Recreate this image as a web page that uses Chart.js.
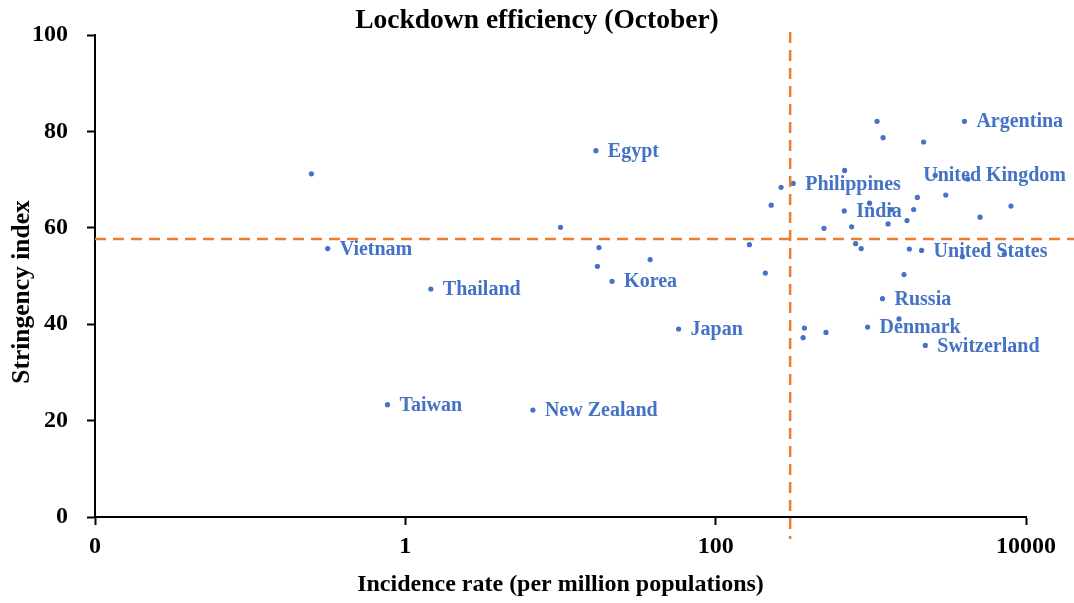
<!DOCTYPE html>
<html>
<head>
<meta charset="utf-8">
<script src="https://cdn.jsdelivr.net/npm/chart.js@4"></script>
<style>
  html, body { margin: 0; padding: 0; background: #fff; }
  #wrap { width: 1074px; height: 603px; }
</style>
</head>
<body>
<div id="wrap"><canvas id="scatterChart"></canvas></div>
<script>
// Lockdown efficiency scatter: incidence rate (log x) vs stringency index

// Named countries
const countryNames = ['Egypt', 'Vietnam', 'Thailand', 'Korea', 'Japan', 'Taiwan', 'New Zealand',
  'Argentina', 'Philippines', 'India', 'United Kingdom', 'United States', 'Russia', 'Denmark', 'Switzerland'];
const countryIncidence = [16.9, 0.316, 1.46, 21.5, 57.7, 0.767, 6.64,
  4010, 316, 674, 2600, 2124, 1189, 953, 2244];
const countryStringency = [76.0, 55.7, 47.3, 48.9, 39.0, 23.3, 22.2,
  82.1, 69.2, 63.5, 70.9, 55.3, 45.3, 39.4, 35.6];

// Other (unlabelled) countries
const otherIncidence = [0.248, 10.0, 17.7, 17.3, 37.8, 1097, 1199, 2188, 678, 264, 228, 981,
  1364, 1995, 1888, 1710, 3041, 5058, 8000, 4216, 499, 752, 1291, 165, 798, 867,
  1771, 3893, 7244, 209, 1636, 1519, 373, 366, 514];
const otherStringency = [71.2, 60.1, 55.9, 52.0, 53.4, 82.1, 78.7, 77.8, 71.9, 68.4, 64.7, 65.1,
  63.8, 66.3, 63.8, 61.5, 66.8, 62.2, 64.5, 70.1, 59.9, 60.2, 60.8, 56.5, 56.7, 55.7,
  55.6, 54.0, 54.5, 50.6, 50.3, 41.1, 39.2, 37.2, 38.3];

// Reference lines (median incidence / median stringency)
const incidenceCutoff = 302;
const stringencyCutoff = 57.7;

// Axis ticks
const xTickValues = [0.01, 1, 100, 10000];
const xTickLabels = ['0', '1', '100', '10000'];

const chartTitle = 'Lockdown efficiency (October)';
const yTitle = 'Stringency index';

const serif = "'Liberation Serif', 'Times New Roman', serif";
const blue = '#4472C4';
const orange = '#ED7D31';

// dashed reference lines, drawn past the plot area like the original
const cutoffLines = {
  id: 'cutoffLines',
  afterDatasetsDraw(chart) {
    const ctx = chart.ctx;
    const xs = chart.scales.x, ys = chart.scales.y;
    const px = xs.getPixelForValue(incidenceCutoff);
    const py = ys.getPixelForValue(stringencyCutoff);
    ctx.save();
    ctx.strokeStyle = orange;
    ctx.lineWidth = 2.5;
    ctx.setLineDash([11, 7]);
    ctx.beginPath();
    ctx.moveTo(px, chart.chartArea.top - 3);
    ctx.lineTo(px, chart.chartArea.bottom + 22);
    ctx.stroke();
    ctx.beginPath();
    ctx.moveTo(chart.chartArea.left, py);
    ctx.lineTo(chart.width, py);
    ctx.stroke();
    ctx.restore();
  }
};

// country names next to their points
const pointLabels = {
  id: 'pointLabels',
  afterDatasetsDraw(chart, args, opts) {
    const ctx = chart.ctx;
    const meta = chart.getDatasetMeta(0);
    ctx.save();
    ctx.font = 'bold 20px ' + serif;
    ctx.fillStyle = blue;
    ctx.textBaseline = 'middle';
    meta.data.forEach((pt, i) => {
      const name = countryNames[i];
      const dx = opts.offsets[name] !== undefined ? opts.offsets[name] : 12;
      ctx.fillText(name, pt.x + dx, pt.y + 1);
    });
    ctx.restore();
  }
};

// chart title centred on the canvas, y title centred a bit low as in the source
const titles = {
  id: 'titles',
  afterDraw(chart) {
    const ctx = chart.ctx;
    ctx.save();
    ctx.fillStyle = '#000';
    ctx.textAlign = 'center';
    ctx.textBaseline = 'middle';
    ctx.font = 'bold 27.5px ' + serif;
    ctx.fillText(chartTitle, chart.width / 2, 21);
    ctx.translate(22, 292);
    ctx.rotate(-Math.PI / 2);
    ctx.font = 'bold 25.5px ' + serif;
    ctx.fillText(yTitle, 0, 0);
    ctx.restore();
  }
};

new Chart(document.getElementById('scatterChart'), {
  type: 'scatter',
  data: {
    datasets: [
      {
        label: 'Named',
        data: countryIncidence.map((v, i) => ({ x: v, y: countryStringency[i] })),
        backgroundColor: blue,
        borderWidth: 0,
        pointRadius: 2.6
      },
      {
        label: 'Other',
        data: otherIncidence.map((v, i) => ({ x: v, y: otherStringency[i] })),
        backgroundColor: blue,
        borderWidth: 0,
        pointRadius: 2.6
      }
    ]
  },
  options: {
    responsive: true,
    maintainAspectRatio: false,
    animation: false,
    layout: { padding: { left: 0, right: 48, top: 35, bottom: 0 } },
    plugins: {
      legend: { display: false },
      tooltip: { enabled: false },
      title: { display: false },
      pointLabels: { offsets: { 'United Kingdom': -12 } }
    },
    scales: {
      x: {
        type: 'logarithmic',
        min: 0.01,
        max: 10000,
        afterBuildTicks: s => { s.ticks = xTickValues.map(v => ({ value: v })); },
        afterFit: s => { s.height = 86; },
        ticks: {
          color: '#000',
          font: { family: serif, size: 24, weight: 'bold' },
          padding: 7,
          maxRotation: 0,
          callback: (v, i) => xTickLabels[i]
        },
        grid: { drawOnChartArea: false, tickLength: 8, tickWidth: 2, tickColor: '#000', color: '#000' },
        border: { color: '#000', width: 2 },
        title: {
          display: true,
          text: 'Incidence rate (per million populations)',
          color: '#000',
          font: { family: serif, size: 24, weight: 'bold' },
          padding: { top: 0, bottom: 4 }
        }
      },
      y: {
        min: 0,
        max: 100,
        afterFit: s => { s.width = 95; },
        ticks: {
          stepSize: 20,
          color: '#000',
          font: { family: serif, size: 24, weight: 'bold' },
          padding: 19
        },
        grid: { drawOnChartArea: false, tickLength: 8, tickWidth: 2, tickColor: '#000', color: '#000' },
        border: { color: '#000', width: 2 },
        title: { display: false }
      }
    }
  },
  plugins: [cutoffLines, pointLabels, titles]
});
</script>
</body>
</html>
